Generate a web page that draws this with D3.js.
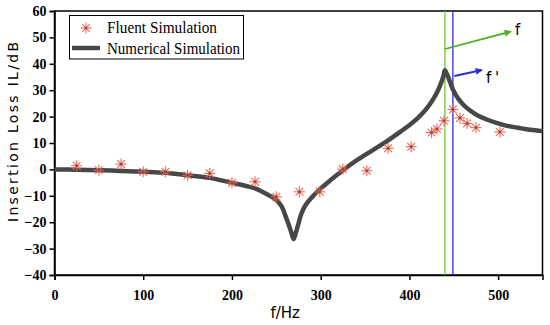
<!DOCTYPE html>
<html>
<head>
<meta charset="utf-8">
<script src="https://cdn.jsdelivr.net/npm/d3@7"></script>
<style>
  body { margin: 0; background: #fff; }
  svg { display: block; }
</style>
</head>
<body>
<svg id="canvas" width="550" height="325"></svg>
<script>

// Fluent simulation points (f in Hz, IL in dB)
var fluentF  = [25, 50, 75, 100, 125, 150, 175, 200, 226, 250, 276, 299, 325, 352, 376, 402, 425, 431, 439, 449, 457, 465, 475, 502];
var fluentIL = [1.4, -0.3, 2.0, -0.9, -0.9, -2.2, -1.5, -5.1, -4.7, -10.4, -8.5, -8.5, 0.1, -0.5, 8.0, 8.6, 14.0, 15.3, 18.4, 22.7, 19.5, 17.4, 15.8, 14.2];

// numerical simulation curve
var numF  = [0, 25, 50, 75, 100, 125, 150, 175, 200, 215, 226, 240, 250, 256, 260, 264, 267, 269.5, 272, 275, 278, 283, 290, 299, 310, 320, 330, 340, 352, 365, 376, 390, 402, 412, 420, 427, 432, 436, 438.5, 440, 442, 444.5, 447, 450, 455, 461, 468, 476, 488, 499, 510, 522, 536, 550];
var numIL = [0, -0.1, -0.3, -0.6, -0.9, -1.3, -2.2, -3.2, -5.1, -6.2, -7.2, -9.5, -11.6, -14, -17.3, -21, -24, -26.4, -24, -20.5, -17, -13.5, -10.6, -7.6, -4.4, -1.7, 0.9, 3.3, 5.9, 8.6, 11, 14.3, 17.3, 20.3, 23.3, 26.7, 29.8, 33, 35.5, 37.6, 36.3, 34.3, 32, 29.6, 26.8, 24.4, 22.4, 20.6, 18.8, 17.5, 16.5, 15.8, 15, 14.5];

var xTicks = [0, 100, 200, 300, 400, 500];
var yTicks = [-40, -30, -20, -10, 0, 10, 20, 30, 40, 50, 60];

var fMark = 440, fPrimeMark = 449;

var margin = {left: 54.5, right: 7.5, top: 11, bottom: 50};
var width = 550, height = 325;

var svg = d3.select("#canvas");

var x = d3.scaleLinear().domain([0, 550]).range([margin.left, width - margin.right]);
var y = d3.scaleLinear().domain([-40, 60]).range([height - margin.bottom, margin.top]);

var tickFont = "'Liberation Serif', 'Times New Roman', serif";

// frame
svg.append("rect")
	.attr("x", x(0)).attr("y", y(60))
	.attr("width", x(550) - x(0)).attr("height", y(-40) - y(60))
	.attr("fill", "none").attr("stroke", "#000").attr("stroke-width", 1.5);

// axes
var xAxis = svg.append("g")
	.attr("transform", "translate(0," + y(-40) + ")")
	.call(d3.axisBottom(x).tickValues(xTicks).tickSize(5).tickPadding(10));
var yAxis = svg.append("g")
	.attr("transform", "translate(" + x(0) + ",0)")
	.call(d3.axisLeft(y).tickValues(yTicks).tickSize(5).tickPadding(3));

[xAxis, yAxis].forEach(function(a) {
	a.select(".domain").attr("stroke-width", 1.5);
	a.selectAll(".tick line").attr("stroke-width", 1.5);
	a.selectAll("text")
		.style("font-family", tickFont)
		.style("font-weight", "bold")
		.style("font-size", "14px")
		.attr("fill", "#000");
});

// marker lines f and f'
svg.append("line")
	.attr("x1", x(fMark)).attr("x2", x(fMark))
	.attr("y1", y(60)).attr("y2", y(-40))
	.attr("stroke", "#66cc33").attr("stroke-width", 1.3);
svg.append("line")
	.attr("x1", x(fPrimeMark)).attr("x2", x(fPrimeMark))
	.attr("y1", y(60)).attr("y2", y(-40))
	.attr("stroke", "#2b2bd9").attr("stroke-width", 1.3);

// numerical curve
var curve = numF.map(function(f, i) { return [f, numIL[i]]; });
svg.append("path")
	.datum(curve)
	.attr("fill", "none")
	.attr("stroke", "#474747")
	.attr("stroke-width", 4.5)
	.attr("stroke-linejoin", "round")
	.attr("d", d3.line()
		.x(function(d) { return x(d[0]); })
		.y(function(d) { return y(d[1]); })
		.curve(d3.curveCatmullRom.alpha(0.5)));

// asterisk marker
function star(g, cx, cy, r) {
	var s = g.append("g").attr("transform", "translate(" + cx + "," + cy + ")");
	for (var k = 0; k < 4; k++) {
		var a = k * Math.PI / 4;
		s.append("line")
			.attr("x1", -r * Math.cos(a)).attr("y1", -r * Math.sin(a))
			.attr("x2", r * Math.cos(a)).attr("y2", r * Math.sin(a))
			.attr("stroke", "#e8665a").attr("stroke-width", 1.1);
	}
	s.append("circle").attr("r", 1.3).attr("fill", "#a0402e");
}

var pts = svg.append("g");
fluentF.forEach(function(f, i) {
	star(pts, x(f), y(fluentIL[i]), 5.5);
});

// arrows
var defs = svg.append("defs");
function arrowHead(id, color) {
	defs.append("marker")
		.attr("id", id)
		.attr("viewBox", "0 0 10 10")
		.attr("refX", 9).attr("refY", 5)
		.attr("markerWidth", 9).attr("markerHeight", 7)
		.attr("orient", "auto")
		.attr("markerUnits", "userSpaceOnUse")
		.append("path").attr("d", "M0,0 L10,5 L0,10 z").attr("fill", color);
}
arrowHead("arrG", "#4caf1f");
arrowHead("arrB", "#2b2bd9");

svg.append("line")
	.attr("x1", x(fMark)).attr("y1", 49)
	.attr("x2", 511).attr("y2", 31.5)
	.attr("stroke", "#4caf1f").attr("stroke-width", 1.8)
	.attr("marker-end", "url(#arrG)");
svg.append("text")
	.attr("x", 515).attr("y", 35)
	.style("font-family", "'DejaVu Sans', sans-serif")
	.style("font-size", "15px")
	.text("f");

svg.append("line")
	.attr("x1", x(fPrimeMark) + 1.5).attr("y1", 76)
	.attr("x2", 482).attr("y2", 70)
	.attr("stroke", "#2b2bd9").attr("stroke-width", 1.8)
	.attr("marker-end", "url(#arrB)");
svg.append("text")
	.attr("x", 486).attr("y", 83)
	.attr("textLength", 13)
	.attr("lengthAdjust", "spacing")
	.style("font-family", "'DejaVu Sans', sans-serif")
	.style("font-size", "15px")
	.text("f'");

// legend
var lg = svg.append("g");
lg.append("rect")
	.attr("x", 69.5).attr("y", 15.5).attr("width", 174).attr("height", 43.5)
	.attr("fill", "#fff").attr("stroke", "#000").attr("stroke-width", 1);
star(lg, 86, 28, 5.5);
lg.append("line")
	.attr("x1", 72).attr("x2", 100).attr("y1", 48).attr("y2", 48)
	.attr("stroke", "#474747").attr("stroke-width", 4.5);
lg.append("text").attr("x", 107).attr("y", 33)
	.attr("textLength", 110).attr("lengthAdjust", "spacingAndGlyphs")
	.style("font-family", tickFont).style("font-size", "16px")
	.text("Fluent Simulation");
lg.append("text").attr("x", 107).attr("y", 54)
	.attr("textLength", 133).attr("lengthAdjust", "spacingAndGlyphs")
	.style("font-family", tickFont).style("font-size", "16px")
	.text("Numerical Simulation");

// axis titles
svg.append("text")
	.attr("x", x(260)).attr("y", 318)
	.attr("text-anchor", "middle")
	.style("font-family", "'DejaVu Sans', sans-serif")
	.style("font-size", "15px")
	.text("f/Hz");

svg.append("text")
	.attr("transform", "translate(18,132) rotate(-90)")
	.attr("text-anchor", "middle")
	.attr("textLength", 180)
	.attr("lengthAdjust", "spacing")
	.style("font-family", "'DejaVu Sans', sans-serif")
	.style("font-size", "14px")
	.text("Insertion Loss  IL/dB");

</script>
</body>
</html>
